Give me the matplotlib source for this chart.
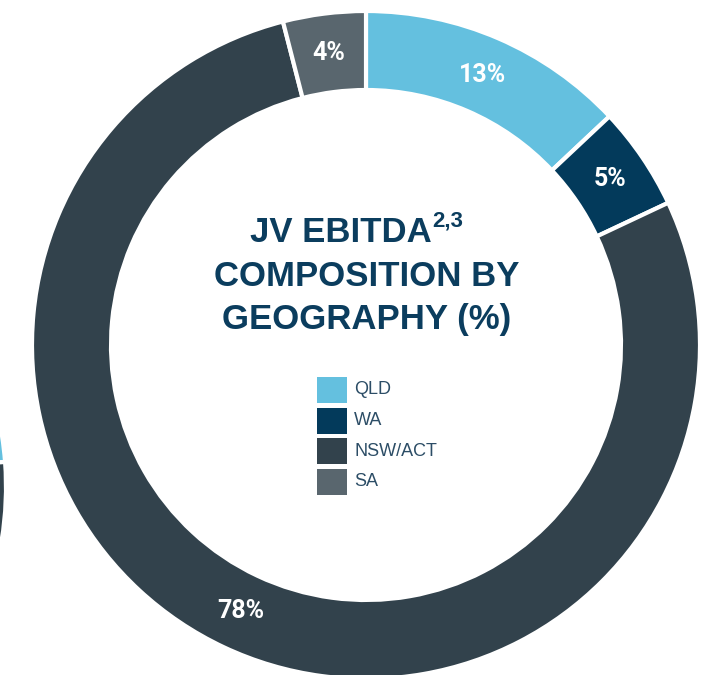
import matplotlib.pyplot as plt
from matplotlib.patches import Rectangle

regions = ["QLD", "WA", "NSW/ACT", "SA"]
shares = [13, 5, 78, 4]
colors = ["#64C0DF", "#033A5B", "#32424C", "#59666E"]

# neighbouring chart, only its edge shows on the left
side_shares = [40, 60]
side_colors = ["#64C0DF", "#32424C"]

W, H = 713, 675
R_OUT = 334
RING = 79
TITLE_COL = "#0B3D5E"
LEGEND_COL = "#2C4D66"


def main():
    fig = plt.figure(figsize=(W / 100, H / 100), dpi=100)
    ax = fig.add_axes([0, 0, 1, 1])

    wedges, texts, autotexts = ax.pie(
        shares, colors=colors, startangle=90, counterclock=False,
        center=(366, H - 345), radius=R_OUT,
        wedgeprops=dict(width=RING, edgecolor="white", linewidth=3),
        autopct="%.0f%%", pctdistance=(R_OUT - RING / 2) / R_OUT,
        textprops=dict(color="white", fontsize=18, fontweight="bold",
                       family="Roboto"))

    ax.pie(side_shares, colors=side_colors, startangle=4.3,
           center=(-328, H - 487), radius=R_OUT,
           wedgeprops=dict(width=RING, edgecolor="white", linewidth=3))

    ax.set_xlim(0, W)
    ax.set_ylim(0, H)
    ax.set_aspect("equal")
    ax.axis("off")

    tfont = dict(color=TITLE_COL, fontsize=25, fontweight="bold",
                 family="Liberation Sans", ha="center", va="center")
    ax.text(341, H - 232, "JV EBITDA", **tfont)
    ax.text(432, H - 221, "2,3", color=TITLE_COL, fontsize=16,
            fontweight="bold", family="Liberation Sans",
            ha="left", va="center")
    ax.text(367, H - 276, "COMPOSITION BY", **tfont)
    ax.text(367, H - 320, "GEOGRAPHY (%)", **tfont)

    for i, (name, c) in enumerate(zip(regions, colors)):
        yc = H - (390 + 30.5 * i)
        ax.add_patch(Rectangle((317, yc - 13), 30, 26, color=c, lw=0))
        ax.text(354, yc, name, color=LEGEND_COL, fontsize=13,
                family="Liberation Sans", va="center", ha="left")

    fig.savefig("out.png", dpi=100)


main()
